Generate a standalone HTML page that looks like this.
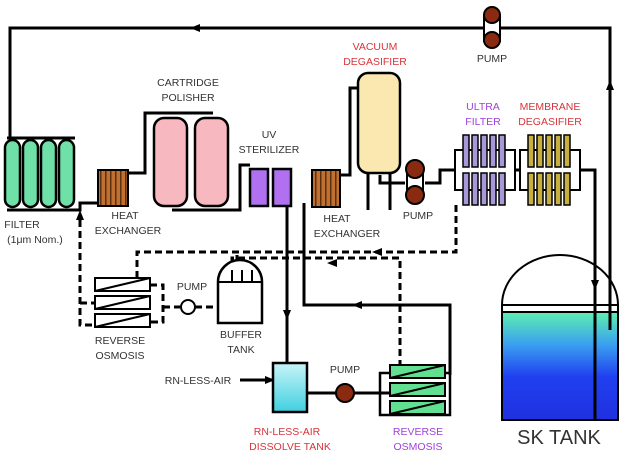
<!DOCTYPE html>
<html><head><style>
body{margin:0;background:#fff}
svg{display:block}
text{font-family:"Liberation Sans",sans-serif;font-size:10.5px;fill:#333;text-anchor:middle}
.r{fill:#d8343a}.p{fill:#a040e0}
</style></head><body>
<svg width="637" height="458" viewBox="0 0 637 458">
<defs>
<linearGradient id="w" x1="0" y1="0" x2="0" y2="1"><stop offset="0" stop-color="#5ef0b0"/><stop offset="0.3" stop-color="#3aa0f0"/><stop offset="0.6" stop-color="#2040f0"/><stop offset="1" stop-color="#2030e0"/></linearGradient>
<linearGradient id="c" x1="0" y1="0" x2="0" y2="1"><stop offset="0" stop-color="#c8f4f8"/><stop offset="1" stop-color="#40d0e0"/></linearGradient>
<pattern id="hx" width="5" height="10" patternUnits="userSpaceOnUse"><rect width="5" height="10" fill="#c07030"/><rect width="1.5" height="10" fill="#5a3010"/></pattern>
</defs>
<!-- SK tank -->
<path d="M502 305A58 50 0 0 1 618 305" fill="none" stroke="#000" stroke-width="2"/>
<rect x="502" y="312" width="116" height="108" fill="url(#w)"/>
<path d="M502 305V420H618V305H502M502 312H618" fill="none" stroke="#000" stroke-width="2"/>
<g fill="none" stroke="#000" stroke-width="3">
<!-- top loop -->
<path d="M10 138V28H610V330"/>
<path d="M7 138H75M7 210H80V203H98"/>
<path d="M128 173H145V113H213M172 210H240V165H250"/>
<path d="M287 207V365"/>
<path d="M304 203V305H450V375"/>
<path d="M340 175H350V88H360"/>
<path d="M380 175V183H405M425 183H440V170H455M515 170H520M580 170H595V420"/>
<path d="M368 172V210M390 172V210"/>
<path d="M240 380H273M307 393H390"/>
</g>
<!-- arrows -->
<g fill="#000">
<path d="M190 28l10-4v8z"/><path d="M610 80l-4 10h8z"/><path d="M595 290l-4-10h8z"/>
<path d="M287 320l-4-10h8z"/><path d="M352 305l10-4v8z"/><path d="M80 210l-4 10h8z"/>
<path d="M275 380l-10-4v8z"/><path d="M372 252l10-4v8z"/><path d="M327 263l10-4v8z"/>
</g>
<!-- dashed -->
<g fill="none" stroke="#000" stroke-width="3" stroke-dasharray="7,4">
<path d="M80 220V325H95M80 303H95M150 285H163V322H150M163 307H180M195 307H218"/>
<path d="M456 205V252H137V278M237 262V252"/>
<path d="M232 263V258H400V365"/>
</g>
<!-- pumps -->
<g stroke="#000" stroke-width="2"><path d="M484 15H500V41H484Z" fill="#fff"/>
<circle cx="492" cy="15" r="8" fill="#8a2a10"/><circle cx="492" cy="40" r="8" fill="#8a2a10"/>
<path d="M407 170H423V195H407Z" fill="#fff"/><circle cx="415" cy="169" r="9" fill="#8a2a10"/><circle cx="415" cy="195" r="9" fill="#8a2a10"/>
<circle cx="345" cy="393" r="9" fill="#8a2a10"/><circle cx="188" cy="307" r="7" fill="#fff"/></g>
<!-- filter ovals -->
<g fill="#6ee0a8" stroke="#000" stroke-width="2.5">
<rect x="5" y="140" width="15" height="67" rx="7.5"/><rect x="23" y="140" width="15" height="67" rx="7.5"/><rect x="41" y="140" width="15" height="67" rx="7.5"/><rect x="59" y="140" width="15" height="67" rx="7.5"/></g>
<rect x="98" y="170" width="30" height="36" fill="url(#hx)" stroke="#000" stroke-width="2"/>
<rect x="312" y="170" width="28" height="37" fill="url(#hx)" stroke="#000" stroke-width="2"/>
<g fill="#f8b8c0" stroke="#000" stroke-width="2.5"><rect x="154" y="118" width="33" height="88" rx="10"/><rect x="195" y="118" width="33" height="88" rx="10"/></g>
<g fill="#b070f0" stroke="#000" stroke-width="2.5"><rect x="250" y="169" width="18" height="37"/><rect x="273" y="169" width="18" height="37"/></g>
<rect x="358" y="73" width="42" height="100" rx="10" fill="#fbe8b0" stroke="#000" stroke-width="2.5"/>
<!-- UF / MD -->
<g fill="#fff" stroke="#000" stroke-width="2"><rect x="455" y="150" width="60" height="40"/><rect x="520" y="150" width="60" height="40"/></g>
<g stroke="#000" stroke-width="1.5">
<g fill="#a898d8"><rect x="463" y="135" width="6" height="32"/><rect x="472" y="135" width="6" height="32"/><rect x="481" y="135" width="6" height="32"/><rect x="490" y="135" width="6" height="32"/><rect x="499" y="135" width="6" height="32"/>
<rect x="463" y="173" width="6" height="32"/><rect x="472" y="173" width="6" height="32"/><rect x="481" y="173" width="6" height="32"/><rect x="490" y="173" width="6" height="32"/><rect x="499" y="173" width="6" height="32"/></g>
<g fill="#c8b040"><rect x="528" y="135" width="6" height="32"/><rect x="537" y="135" width="6" height="32"/><rect x="546" y="135" width="6" height="32"/><rect x="555" y="135" width="6" height="32"/><rect x="564" y="135" width="6" height="32"/>
<rect x="528" y="173" width="6" height="32"/><rect x="537" y="173" width="6" height="32"/><rect x="546" y="173" width="6" height="32"/><rect x="555" y="173" width="6" height="32"/><rect x="564" y="173" width="6" height="32"/></g></g>
<!-- RO1 -->
<g fill="#fff" stroke="#000" stroke-width="2"><rect x="95" y="278" width="55" height="13"/><rect x="95" y="296" width="55" height="13"/><rect x="95" y="314" width="55" height="13"/>
<path d="M95 291L150 278M95 309L150 296M95 327L150 314"/></g>
<!-- buffer tank -->
<path d="M218 323V282A22 22 0 0 1 262 282V323Z" fill="#fff" stroke="#000" stroke-width="2.5"/>
<path d="M218 282H262M232 270V282M242 270V282M252 270V282" stroke="#000" stroke-width="2"/>
<rect x="273" y="363" width="34" height="49" fill="url(#c)" stroke="#000" stroke-width="2.5"/>
<!-- RO2 -->
<rect x="380" y="373" width="70" height="42" fill="none" stroke="#000" stroke-width="2.5"/>
<g fill="#60e090" stroke="#000" stroke-width="2"><rect x="390" y="365" width="55" height="13"/><rect x="390" y="383" width="55" height="13"/><rect x="390" y="401" width="55" height="13"/>
<path d="M390 378L445 365M390 396L445 383M390 414L445 401" fill="none"/></g>
<!-- labels -->
<text x="492" y="62">PUMP</text>
<text class="r" x="375" y="50">VACUUM</text><text class="r" x="375" y="65">DEGASIFIER</text>
<text x="188" y="86">CARTRIDGE</text><text x="188" y="101">POLISHER</text>
<text x="269" y="138">UV</text><text x="269" y="153">STERILIZER</text>
<text class="p" x="483" y="110">ULTRA</text><text class="p" x="483" y="125">FILTER</text>
<text class="r" x="550" y="110">MEMBRANE</text><text class="r" x="550" y="125">DEGASIFIER</text>
<text x="22" y="228">FILTER</text><text x="35" y="243">(1μm Nom.)</text>
<text x="125" y="219">HEAT</text><text x="128" y="234">EXCHANGER</text>
<text x="337" y="222">HEAT</text><text x="347" y="237">EXCHANGER</text>
<text x="418" y="219">PUMP</text>
<text x="192" y="290">PUMP</text>
<text x="120" y="344">REVERSE</text><text x="120" y="359">OSMOSIS</text>
<text x="241" y="338">BUFFER</text><text x="241" y="353">TANK</text>
<text x="198" y="384">RN-LESS-AIR</text>
<text x="345" y="373">PUMP</text>
<text class="r" x="287" y="435">RN-LESS-AIR</text><text class="r" x="290" y="450">DISSOLVE TANK</text>
<text class="p" x="418" y="435">REVERSE</text><text class="p" x="418" y="450">OSMOSIS</text>
<text x="559" y="444" style="font-size:20px">SK TANK</text>
</svg>
</body></html>
